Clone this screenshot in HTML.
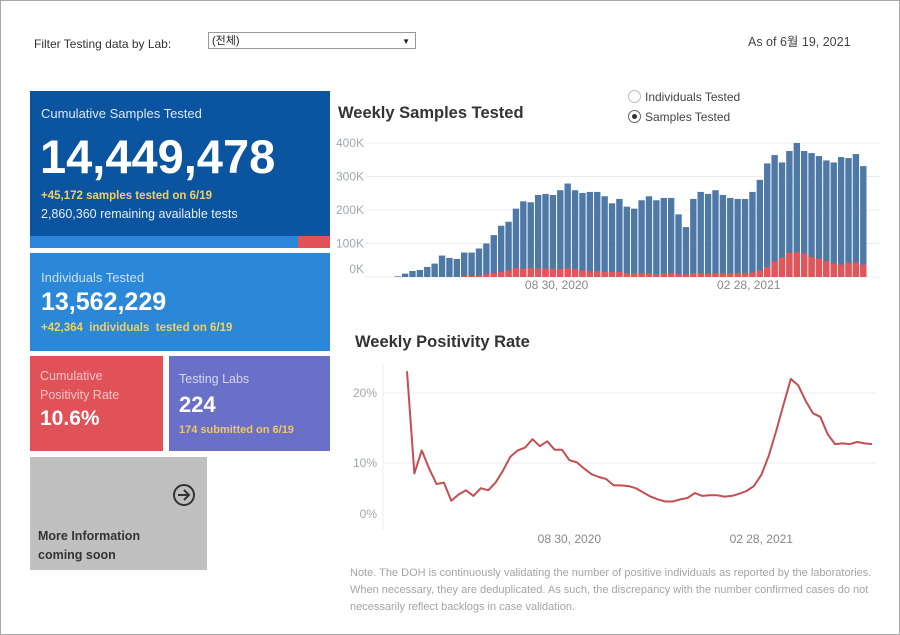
<!DOCTYPE html>
<html><head><meta charset="utf-8"><style>
body{margin:0;width:900px;height:635px;background:#fff;font-family:"Liberation Sans","Noto Sans CJK KR",sans-serif;overflow:hidden;position:relative}
.frame{position:absolute;left:0;top:0;width:898px;height:633px;border:1px solid #a8a8a8}
.abs{position:absolute}
.card{position:absolute;color:#fff}
</style></head><body>
<div class="frame"></div>
<div class="abs" style="left:34px;top:37px;font-size:12px;color:#333">Filter Testing data by Lab:</div>
<div class="abs" style="left:208px;top:32px;width:208px;height:17px;border:1px solid #999;font-size:11px;color:#222;line-height:17px;box-sizing:border-box;padding-left:3px">(전체)<span style="position:absolute;right:5px;top:0;font-size:8px">▼</span></div>
<div class="abs" style="left:748px;top:31px;font-size:12.5px;color:#444">As of 6월 19, 2021</div>

<div class="card" style="left:30px;top:91px;width:300px;height:145px;background:#0a54a0">
 <div class="abs" style="left:11px;top:15px;font-size:13px;color:#dfe9f5">Cumulative Samples Tested</div>
 <div class="abs" style="left:10px;top:38px;font-size:47px;font-weight:bold">14,449,478</div>
 <div class="abs" style="left:11px;top:99px;font-size:11.5px;font-weight:bold;color:#f0d060">+45,172 samples tested on 6/19</div>
 <div class="abs" style="left:11px;top:116px;font-size:12.5px;color:#e6eef8">2,860,360 remaining available tests</div>
</div>
<div class="abs" style="left:30px;top:236px;width:268px;height:12px;background:#2a86d8"></div>
<div class="abs" style="left:298px;top:236px;width:32px;height:12px;background:#e05258"></div>

<div class="card" style="left:30px;top:253px;width:300px;height:98px;background:#2b88d8">
 <div class="abs" style="left:11px;top:17px;font-size:13px;color:#c9e0f6">Individuals Tested</div>
 <div class="abs" style="left:11px;top:35px;font-size:25px;font-weight:bold">13,562,229</div>
 <div class="abs" style="left:11px;top:69px;font-size:11.5px;font-weight:bold;color:#f0d060">+42,364 &nbsp;individuals &nbsp;tested on 6/19</div>
</div>
<div class="card" style="left:30px;top:356px;width:133px;height:95px;background:#e05258">
 <div class="abs" style="left:10px;top:11px;font-size:12.5px;line-height:19px;color:#f6c3c4">Cumulative<br>Positivity Rate</div>
 <div class="abs" style="left:10px;top:51px;font-size:21px;font-weight:bold">10.6%</div>
</div>
<div class="card" style="left:169px;top:356px;width:161px;height:95px;background:#6a70c8">
 <div class="abs" style="left:10px;top:16px;font-size:12.5px;color:#d4d6f2">Testing Labs</div>
 <div class="abs" style="left:10px;top:36px;font-size:22px;font-weight:bold">224</div>
 <div class="abs" style="left:10px;top:68px;font-size:11px;font-weight:bold;color:#f0c860">174 submitted on 6/19</div>
</div>
<div class="card" style="left:30px;top:457px;width:177px;height:113px;background:#c0c0c0">
 <svg class="abs" style="left:142px;top:26px" width="24" height="24"><circle cx="12" cy="12" r="10" fill="none" stroke="#333" stroke-width="2"/><path d="M6 12h11M12 7l5 5-5 5" fill="none" stroke="#333" stroke-width="2"/></svg>
 <div class="abs" style="left:8px;top:70px;font-size:12.5px;font-weight:bold;line-height:19px;color:#333">More Information<br>coming soon</div>
</div>

<div class="abs" style="left:338px;top:104px;font-size:16.5px;font-weight:bold;color:#333">Weekly Samples Tested</div>
<div class="abs" style="left:628px;top:87px;font-size:12px;color:#444;line-height:20px">
 <div><span style="display:inline-block;width:11px;height:11px;border:1px solid #bbb;border-radius:50%;vertical-align:-2px;margin-right:4px"></span>Individuals Tested</div>
 <div><span style="display:inline-block;width:11px;height:11px;border:1px solid #666;border-radius:50%;vertical-align:-2px;margin-right:4px;position:relative"><span style="position:absolute;left:3px;top:3px;width:5px;height:5px;border-radius:50%;background:#333"></span></span>Samples Tested</div>
</div>
<div class="abs" style="left:355px;top:333px;font-size:16.5px;font-weight:bold;color:#333">Weekly Positivity Rate</div>
<div class="abs" style="left:350px;top:565px;width:530px;font-size:11px;line-height:17px;color:#a4a4a4">Note. The DOH is continuously validating the number of positive individuals as reported by the laboratories. When necessary, they are deduplicated. As such, the discrepancy with the number confirmed cases do not necessarily reflect backlogs in case validation.</div>

<svg id="chart" class="abs" style="left:0;top:0" width="900" height="635"></svg>
<script>
const samples=[2,10,18,21,30,40,64,57,54,73,73,85,100,125,153,165,204,226,223,245,248,245,259,279,259,251,254,254,241,220,233,210,204,229,241,229,236,236,187,149,233,254,248,259,245,236,233,233,254,290,339,364,342,376,400,376,370,361,348,342,358,355,367,331];
const positives=[0,0,0,0,0,0,0,0,0,3,3,3,8,12,15,20,27,24,27,25,25,25,24,26,24,20,17,17,15,15,15,12,12,12,12,8,12,12,8,8,12,12,12,12,12,12,12,12,14,20,30,47,58,72,74,70,60,55,48,40,37,43,43,37];
const positivity=[23.1,8.5,11.8,9.2,7.0,7.2,4.6,5.5,6.1,5.3,6.4,6.1,7.2,8.9,10.9,11.8,12.2,13.4,12.4,13.1,11.9,11.9,10.4,10.1,9.2,8.4,8.0,7.7,6.8,6.8,6.7,6.4,5.8,5.2,4.8,4.5,4.5,4.8,5.0,5.7,5.3,5.4,5.4,5.2,5.3,5.6,6.0,6.7,8.3,11.0,14.5,18.3,22.0,21.1,18.9,17.1,16.6,14.1,12.7,12.8,12.7,13.0,12.8,12.7];
const barTicks=[0,100,200,300,400];
const barTickLabels=["0K","100K","200K","300K","400K"];
const lineTicks=[0,10,20];
const lineTickLabels=["0%","10%","20%"];
const dateLabels=["08 30, 2020","02 28, 2021"];
const dateIdx=[22,48];
const NS="http://www.w3.org/2000/svg";
const svg=document.getElementById('chart');
function mk(t,a){const e=document.createElementNS(NS,t);for(const k in a)e.setAttribute(k,a[k]);svg.appendChild(e);return e;}
const n=samples.length;
const bx0=394,bx1=867,bw=(bx1-bx0)/n;
const bxs=i=>bx0+i*bw;
const by=v=>277-v*0.335;
barTicks.forEach((t,i)=>{
 const g=mk('line',{x1:365,x2:880,y1:by(t),y2:by(t),stroke:'#ececec'});
 
 
 const tx=mk('text',{x:364,y:(t===0?by(t)-4:by(t)+4),'text-anchor':'end','font-size':12,fill:'#a0a8ae'});
 tx.textContent=barTickLabels[i];
 
 
});
samples.forEach((v,i)=>{
 const r=mk('rect',{x:bxs(i)+0.5,y:by(v),width:bw-1,height:277-by(v),fill:'#4e79a7'});
 
 
 const p=positives[i];
 if(p>0){const q=mk('rect',{x:bxs(i)+0.5,y:by(p),width:bw-1,height:277-by(p),fill:'#e15759'});
 
 }
});
dateLabels.forEach((d,i)=>{
 const tx=mk('text',{x:bxs(dateIdx[i]),y:289,'text-anchor':'middle','font-size':12,fill:'#888'});
 tx.textContent=d;
 
 
});
const lx0=407,lx1=872;
const lxs=i=>lx0+i*(lx1-lx0)/(n-1);
const ly=v=>533-v*7;
lineTicks.forEach((t,i)=>{
 if(t>0){const g=mk('line',{x1:383,x2:877,y1:ly(t),y2:ly(t),stroke:'#ececec'});
 
 }
 const tx=mk('text',{x:377,y:(t===0?518:ly(t)+4),'text-anchor':'end','font-size':12,fill:'#a0a8ae'});
 tx.textContent=lineTickLabels[i];
 
 
});
const ax=mk('line',{x1:383,x2:383,y1:365,y2:530,stroke:'#eee'});


const pl=mk('polyline',{points:positivity.map((v,i)=>lxs(i)+','+ly(v)).join(' '),fill:'none',stroke:'#c44e52','stroke-width':2,'stroke-linejoin':'round'});


dateLabels.forEach((d,i)=>{
 const tx=mk('text',{x:lxs(dateIdx[i]),y:543,'text-anchor':'middle','font-size':12,fill:'#888'});
 tx.textContent=d;
 
 
});
</script>
</body></html>
